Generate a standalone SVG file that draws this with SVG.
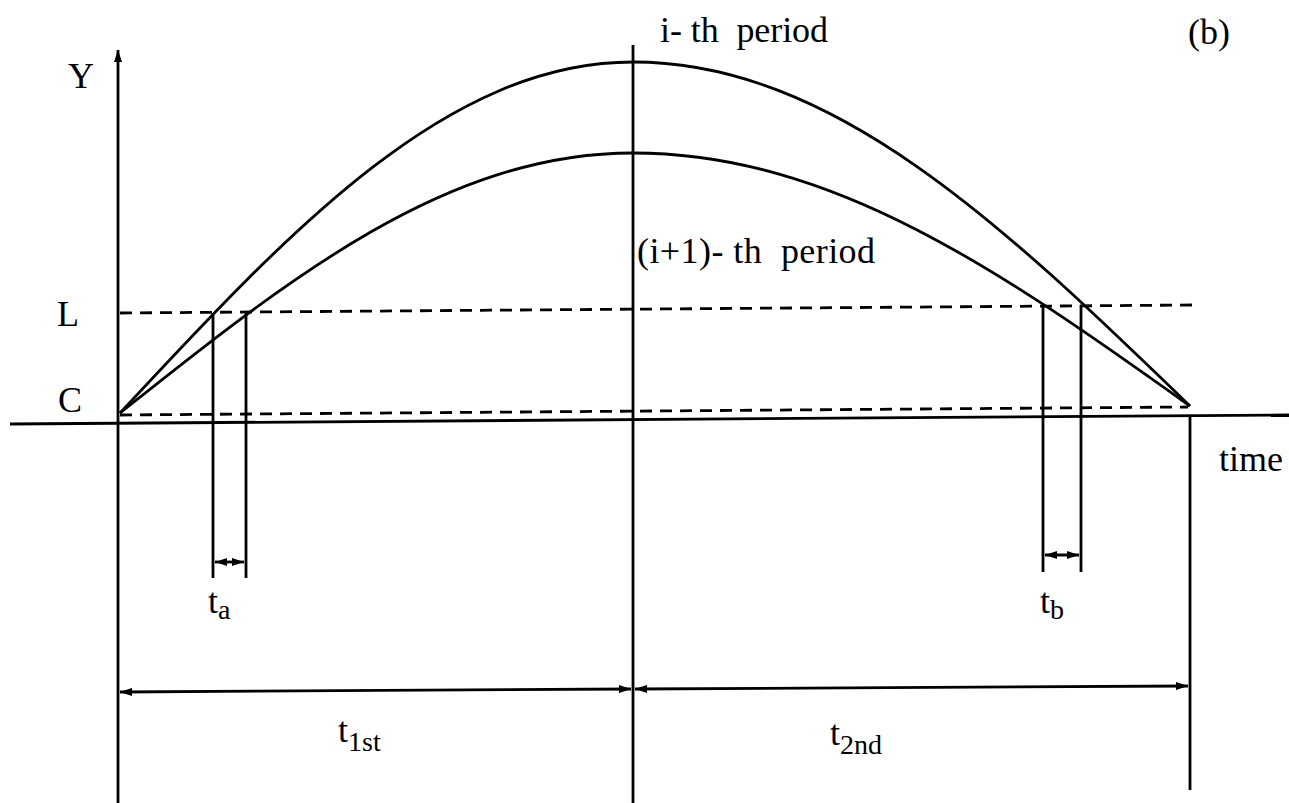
<svg xmlns="http://www.w3.org/2000/svg" width="1289" height="803" viewBox="0 0 1289 803">
<style>
  .ln{stroke:#000;stroke-width:2.8;fill:none;stroke-linecap:butt}
  .cv{stroke:#000;stroke-width:2.8;fill:none}
  .dash{stroke:#000;stroke-width:2.8;fill:none;stroke-dasharray:12 8}
  .tx{font-family:"Liberation Serif","Times New Roman",serif;font-size:36px;fill:#000}
  .sub{font-size:28px}
</style>
<defs>
  <marker id="ah" viewBox="0 0 12 8" refX="12" refY="4" markerWidth="12" markerHeight="8" markerUnits="userSpaceOnUse" orient="auto-start-reverse">
    <path d="M0,0 L12,4 L0,8 Z" fill="#000"/>
  </marker>
</defs>
<g id="axes">
  <line class="ln" x1="118" y1="803" x2="118" y2="50" marker-end="url(#ah)"/>
  <line class="ln" x1="10" y1="424" x2="1289" y2="415"/>
  <line class="ln" x1="633" y1="45" x2="633" y2="803"/>
  <line class="ln" x1="1190" y1="416" x2="1190" y2="790"/>
</g>
<g id="levels">
  <line class="dash" x1="120" y1="313" x2="1192" y2="305"/>
  <line class="dash" x1="120" y1="415" x2="1188" y2="407"/>
</g>
<g id="curves">
  <path id="curve-i" class="cv" d="M120,413 C291.2,228.7 447.5,62 633,62 C833.1,62 1003.5,225.4 1190,406"/>
  <path id="curve-i1" class="cv" d="M120,413 C291.2,276.5 447.5,153 633,153 C833.1,153 1003.5,273.1 1190,406"/>
</g>
<g id="connectors">
  <line class="ln" x1="213" y1="313" x2="213" y2="578"/>
  <line class="ln" x1="246" y1="312" x2="246" y2="578"/>
  <line class="ln" x1="1043" y1="306" x2="1043" y2="572"/>
  <line class="ln" x1="1081" y1="305" x2="1081" y2="572"/>
  <line class="ln" x1="215" y1="562" x2="244" y2="562" marker-start="url(#ah)" marker-end="url(#ah)"/>
  <line class="ln" x1="1045" y1="555" x2="1079" y2="555" marker-start="url(#ah)" marker-end="url(#ah)"/>
  <line class="ln" x1="120" y1="692" x2="631" y2="689" marker-start="url(#ah)" marker-end="url(#ah)"/>
  <line class="ln" x1="635" y1="689" x2="1188" y2="686" marker-start="url(#ah)" marker-end="url(#ah)"/>
</g>
<g id="labels">
  <text class="tx" x="68" y="88">Y</text>
  <text class="tx" x="57" y="326">L</text>
  <text class="tx" x="58" y="412">C</text>
  <text class="tx" x="1219" y="471">time</text>
  <text class="tx" x="660" y="42" textLength="168" lengthAdjust="spacing" xml:space="preserve">i- th  period</text>
  <text class="tx" x="1188" y="44">(b)</text>
  <text class="tx" x="637" y="263" textLength="238" lengthAdjust="spacing" xml:space="preserve">(i+1)- th  period</text>
  <text class="tx" x="208" y="613">t<tspan class="sub" dy="6">a</tspan></text>
  <text class="tx" x="1040" y="613">t<tspan class="sub" dy="6">b</tspan></text>
  <text class="tx" x="338" y="742">t<tspan class="sub" dy="9">1st</tspan></text>
  <text class="tx" x="830" y="745">t<tspan class="sub" dy="9">2nd</tspan></text>
</g>
</svg>
